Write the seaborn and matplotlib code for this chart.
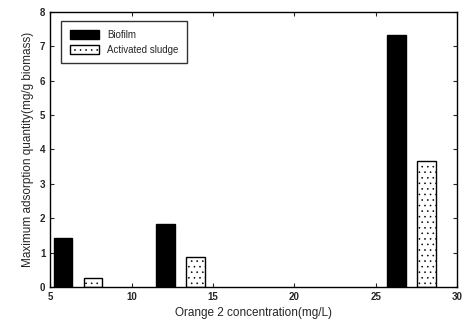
import matplotlib
matplotlib.use("Agg")
import matplotlib.pyplot as plt
import pandas as pd
import seaborn as sns

# group centres on the concentration axis (mg/L)
concentrations = [6.7, 13.0, 27.2]
biofilm = [1.42, 1.84, 7.32]
activated_sludge = [0.26, 0.87, 3.65]
series_names = ["Biofilm", "Activated sludge"]

df = pd.DataFrame({
    "conc": concentrations * 2,
    "q": biofilm + activated_sludge,
    "series": [series_names[0]] * 3 + [series_names[1]] * 3,
})

sns.set_style("ticks")
plt.rcParams["font.family"] = ["Liberation Sans", "DejaVu Sans"]
plt.rcParams["hatch.linewidth"] = 0.4
plt.rcParams["hatch.color"] = "#555555"

fig = plt.figure(figsize=(4.65, 3.31), dpi=100)
ax = fig.add_axes([0.108, 0.133, 0.875, 0.831])

sns.barplot(data=df, x="conc", y="q", hue="series", native_scale=True,
            palette=["black", "white"], width=0.587, gap=0.38,
            edgecolor="black", linewidth=1.0, ax=ax)

for bar in ax.patches[3:6]:
    bar.set_hatch("...")

ax.set_xlim(5, 30)
ax.set_ylim(0, 8)
ax.set_xticks([5, 10, 15, 20, 25, 30])
ax.set_yticks(range(0, 9))
ax.tick_params(direction="in", length=3, labelsize=7, top=True, right=True,
               labeltop=False, labelright=False)
for lbl in ax.get_xticklabels() + ax.get_yticklabels():
    lbl.set_fontweight("bold")
for s in ax.spines.values():
    s.set_linewidth(1.0)
    s.set_color("black")

ax.set_xlabel("Orange 2 concentration(mg/L)", fontsize=8.5)
ax.set_ylabel("Maximum adsorption quantity(mg/g biomass)", fontsize=8.5)

leg = ax.legend(loc="upper left", bbox_to_anchor=(0.015, 0.985), fontsize=7,
                frameon=True, fancybox=False, edgecolor="black",
                handlelength=3.0, handleheight=1.0, borderpad=0.9)
leg.get_frame().set_linewidth(1.0)
for h in leg.legend_handles[1:]:
    h.set_hatch("...")

fig.savefig("out.png", dpi=100)
